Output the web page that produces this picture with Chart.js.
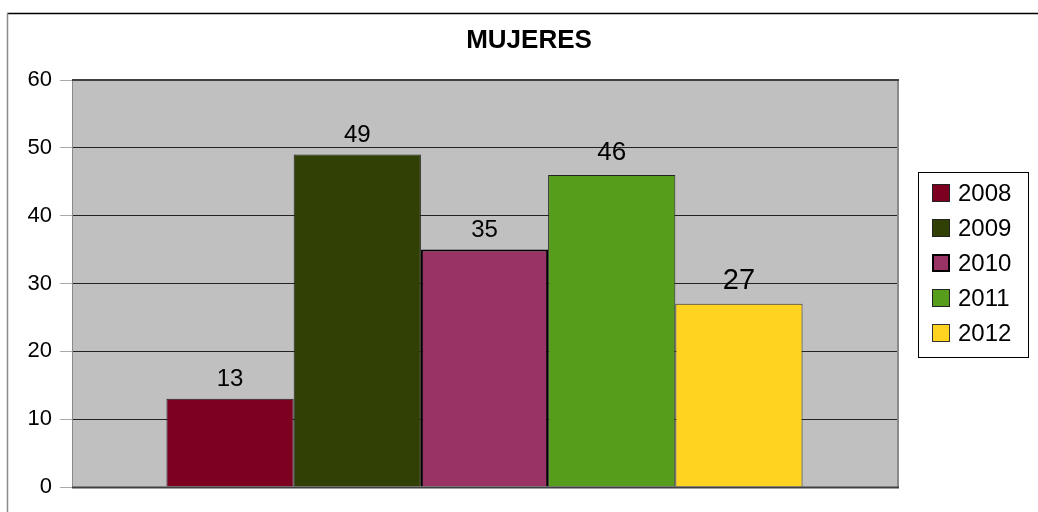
<!DOCTYPE html>
<html>
<head>
<meta charset="utf-8">
<title>MUJERES</title>
<script src="https://cdn.jsdelivr.net/npm/chart.js@4/dist/chart.umd.min.js"></script>
<style>
  html, body { margin: 0; padding: 0; background: #ffffff; }
  canvas { display: block; }
</style>
</head>
<body>
<canvas id="chart" width="1038" height="512"></canvas>
<script>
// Chart data
const chartTitle = 'MUJERES';
const years = ['2008', '2009', '2010', '2011', '2012'];
const values = [13, 49, 35, 46, 27];
const yTicks = [0, 10, 20, 30, 40, 50, 60];

// Styling per series
const barColors = ['#7e0021', '#314004', '#993366', '#579d1c', '#ffd320'];
const barBorderColors = ['#222222', '#222222', '#000000', '#222222', '#333333'];
const barBorderWidths = [1, 1, 2, 1, 1];
const labelFontSizes = [24, 24, 24, 26, 29];

const FONT = '"Liberation Sans", Arial, Helvetica, sans-serif';

const datasets = years.map((y, i) => ({
  label: y,
  data: [values[i]],
  backgroundColor: barColors[i],
  borderColor: barBorderColors[i],
  borderWidth: barBorderWidths[i],
  labelFontSize: labelFontSizes[i]
}));

const frameAndLabels = {
  id: 'frameAndLabels',
  beforeDraw(chart) {
    const ctx = chart.ctx;
    const a = chart.chartArea;
    ctx.save();
    ctx.fillStyle = '#ffffff';
    ctx.fillRect(0, 0, chart.width, chart.height);
    // outer frame
    ctx.lineWidth = 1.5;
    ctx.strokeStyle = '#000000';
    ctx.beginPath();
    ctx.moveTo(7, 13.5);
    ctx.lineTo(chart.width, 13.5);
    ctx.stroke();
    ctx.strokeStyle = '#8a8a8a';
    ctx.beginPath();
    ctx.moveTo(7.5, 13);
    ctx.lineTo(7.5, chart.height);
    ctx.stroke();
    // plot background
    ctx.fillStyle = '#c0c0c0';
    ctx.fillRect(a.left, a.top, a.right - a.left, a.bottom - a.top);
    ctx.restore();
  },
  afterDatasetsDraw(chart) {
    const ctx = chart.ctx;
    const a = chart.chartArea;
    ctx.save();
    // plot area edges
    ctx.strokeStyle = '#8a8a8a';
    ctx.lineWidth = 2;
    ctx.beginPath();
    ctx.moveTo(a.right + 1, a.top);
    ctx.lineTo(a.right + 1, a.bottom + 1);
    ctx.stroke();
    ctx.strokeStyle = '#404040';
    ctx.lineWidth = 2;
    ctx.beginPath();
    ctx.moveTo(a.left, a.top);
    ctx.lineTo(a.right + 2, a.top);
    ctx.stroke();
    ctx.beginPath();
    ctx.moveTo(a.left, a.bottom + 0.5);
    ctx.lineTo(a.right + 2, a.bottom + 0.5);
    ctx.stroke();

    // value labels
    ctx.fillStyle = '#000000';
    ctx.textAlign = 'center';
    ctx.textBaseline = 'alphabetic';
    chart.data.datasets.forEach((ds, i) => {
      const meta = chart.getDatasetMeta(i);
      meta.data.forEach((bar, j) => {
        const size = ds.labelFontSize;
        ctx.font = size + 'px ' + FONT;
        const gap = size > 24 ? 15 : 13;
        ctx.fillText(String(ds.data[j]), bar.x, bar.y - gap);
      });
    });

    // title
    ctx.font = 'bold 26px ' + FONT;
    ctx.textBaseline = 'middle';
    ctx.fillText(chartTitle, 529, 41);

    // legend
    const lx = 918, ly = 172, lw = 110, lh = 185;
    ctx.fillStyle = '#ffffff';
    ctx.fillRect(lx, ly, lw, lh);
    ctx.strokeStyle = '#000000';
    ctx.lineWidth = 1;
    ctx.strokeRect(lx + 0.5, ly + 0.5, lw, lh);
    ctx.textAlign = 'left';
    ctx.font = '24px ' + FONT;
    chart.data.datasets.forEach((ds, i) => {
      const cy = 193 + i * 35;
      ctx.fillStyle = ds.backgroundColor;
      ctx.fillRect(932, cy - 9, 18, 18);
      ctx.strokeStyle = ds.borderColor;
      ctx.lineWidth = ds.borderWidth;
      ctx.strokeRect(932 + ds.borderWidth / 2, cy - 9 + ds.borderWidth / 2, 18 - ds.borderWidth, 18 - ds.borderWidth);
      ctx.fillStyle = '#000000';
      ctx.fillText(ds.label, 958, cy + 1);
    });
    ctx.restore();
  }
};

new Chart(document.getElementById('chart'), {
  type: 'bar',
  data: { labels: [''], datasets },
  options: {
    responsive: false,
    devicePixelRatio: 1,
    animation: false,
    layout: { padding: { left: 0, top: 80, right: 141, bottom: 25 } },
    datasets: {
      bar: { barPercentage: 1, categoryPercentage: 0.771, borderSkipped: 'start' }
    },
    plugins: {
      legend: { display: false },
      title: { display: false },
      tooltip: { enabled: false }
    },
    scales: {
      x: { display: false },
      y: {
        min: yTicks[0],
        max: yTicks[yTicks.length - 1],
        afterBuildTicks(scale) { scale.ticks = yTicks.map(v => ({ value: v })); },
        afterFit(scale) { scale.width = 72; },
        ticks: {
          color: '#000000',
          font: { family: FONT, size: 22 },
          padding: 8
        },
        grid: {
          color: '#222222',
          tickColor: '#aaaaaa',
          tickLength: 12,
          lineWidth: 1
        },
        border: { display: true, color: '#8a8a8a', width: 1 }
      }
    }
  },
  plugins: [frameAndLabels]
});
</script>
</body>
</html>
